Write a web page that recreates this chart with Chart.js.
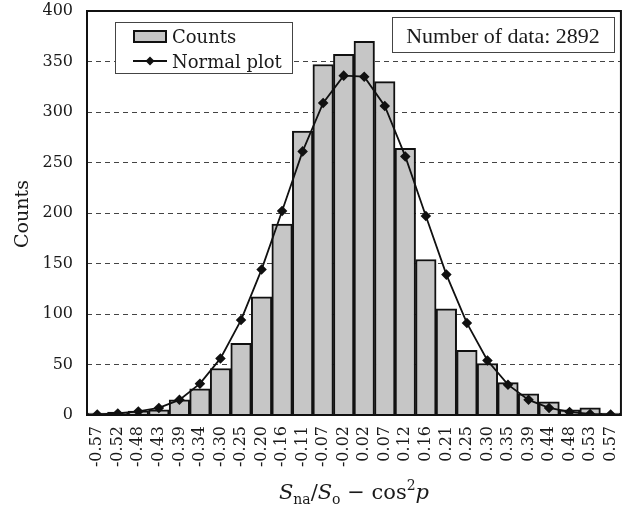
<!DOCTYPE html>
<html>
<head>
<meta charset="utf-8">
<script src="https://cdn.jsdelivr.net/npm/chart.js@4/dist/chart.umd.min.js"></script>
<style>
  html, body { margin: 0; padding: 0; background: #fff; }
  #wrap { width: 630px; height: 513px; }
</style>
</head>
<body>
<div id="wrap"><canvas id="chart"></canvas></div>
<script>
// bin labels (x axis)
const binLabels = ["-0.57", "-0.52", "-0.48", "-0.43", "-0.39", "-0.34", "-0.30", "-0.25", "-0.20",
  "-0.16", "-0.11", "-0.07", "-0.02", "0.02", "0.07", "0.12", "0.16", "0.21", "0.25", "0.30",
  "0.35", "0.39", "0.44", "0.48", "0.53", "0.57"];

// histogram counts
const counts = [2, 3, 4, 5, 15, 26, 46, 71, 117, 189, 281, 347, 357,
  370, 330, 264, 154, 105, 64, 51, 32, 21, 13, 5, 7, 2];

// fitted normal curve
const normalPlot = [0.5, 1.5, 3.5, 7, 15, 31, 56, 94, 144, 202, 261, 309, 336,
  335, 306, 256, 197, 139, 91, 54, 30, 15, 7, 3, 1, 0.5];

const yTicks = [0, 50, 100, 150, 200, 250, 300, 350, 400];

const serif = "'DejaVu Serif', serif";

// legend, info box, axis titles, frame
const decor = {
  id: "decor",
  afterDraw(chart) {
    const ctx = chart.ctx;
    const a = chart.chartArea;
    ctx.save();

    // frame
    ctx.strokeStyle = "#111";
    ctx.lineWidth = 2;
    ctx.strokeRect(a.left, a.top, a.right - a.left, a.bottom - a.top);

    // legend box
    ctx.fillStyle = "#fff";
    ctx.fillRect(115, 22, 177, 51);
    ctx.strokeStyle = "#444";
    ctx.lineWidth = 1;
    ctx.strokeRect(115.5, 22.5, 177, 51);

    ctx.fillStyle = "#c6c6c6";
    ctx.fillRect(134, 31, 32, 11);
    ctx.strokeStyle = "#111";
    ctx.lineWidth = 2;
    ctx.strokeRect(134, 31, 32, 11);

    ctx.lineWidth = 1.8;
    ctx.beginPath();
    ctx.moveTo(133, 61);
    ctx.lineTo(167, 61);
    ctx.stroke();
    ctx.fillStyle = "#111";
    ctx.beginPath();
    ctx.moveTo(150, 56.5);
    ctx.lineTo(154.5, 61);
    ctx.lineTo(150, 65.5);
    ctx.lineTo(145.5, 61);
    ctx.closePath();
    ctx.fill();

    ctx.fillStyle = "#1a1a1a";
    ctx.font = "18px " + serif;
    ctx.textAlign = "left";
    ctx.textBaseline = "alphabetic";
    ctx.fillText("Counts", 172, 43);
    ctx.fillText("Normal plot", 172, 68);

    // number of data box
    ctx.fillStyle = "#fff";
    ctx.fillRect(392, 17, 222, 35);
    ctx.strokeStyle = "#444";
    ctx.lineWidth = 1;
    ctx.strokeRect(392.5, 17.5, 222, 35);
    ctx.fillStyle = "#1a1a1a";
    ctx.font = "22px 'Liberation Serif', serif";
    ctx.textAlign = "center";
    ctx.fillText("Number of data: 2892", 503, 43);

    // y title
    ctx.save();
    ctx.translate(28, 214);
    ctx.rotate(-Math.PI / 2);
    ctx.font = "19px " + serif;
    ctx.textAlign = "center";
    ctx.fillText("Counts", 0, 0);
    ctx.restore();

    // x title: S_na/S_o − cos^2 p
    const parts = [
      { t: "S", f: "italic 21px " + serif, dy: 0 },
      { t: "na", f: "14px " + serif, dy: 5 },
      { t: "/", f: "21px " + serif, dy: 0 },
      { t: "S", f: "italic 21px " + serif, dy: 0 },
      { t: "o", f: "14px " + serif, dy: 5 },
      { t: " \u2212 cos", f: "21px " + serif, dy: 0 },
      { t: "2", f: "14px " + serif, dy: -9 },
      { t: "p", f: "italic 21px " + serif, dy: 0 }
    ];
    let total = 0;
    parts.forEach(p => { ctx.font = p.f; p.w = ctx.measureText(p.t).width; total += p.w; });
    let x = (a.left + a.right) / 2 - total / 2;
    ctx.textAlign = "left";
    parts.forEach(p => {
      ctx.font = p.f;
      ctx.fillText(p.t, x, 499 + p.dy);
      x += p.w;
    });

    ctx.restore();
  }
};

new Chart(document.getElementById("chart"), {
  data: {
    labels: binLabels,
    datasets: [
      {
        type: "line",
        label: "Normal plot",
        data: normalPlot,
        borderColor: "#111",
        borderWidth: 1.8,
        pointStyle: "rectRot",
        pointRadius: 4,
        pointBackgroundColor: "#111",
        pointBorderColor: "#111",
        tension: 0,
        order: 0
      },
      {
        type: "bar",
        label: "Counts",
        data: counts,
        backgroundColor: "#c6c6c6",
        borderColor: "#111",
        borderWidth: 2,
        categoryPercentage: 1,
        barPercentage: 1,
        order: 1
      }
    ]
  },
  options: {
    responsive: true,
    maintainAspectRatio: false,
    animation: false,
    layout: { padding: { top: 11, right: 7, left: 0, bottom: 0 } },
    plugins: {
      legend: { display: false },
      tooltip: { enabled: false }
    },
    scales: {
      x: {
        grid: {
          display: true,
          drawOnChartArea: false,
          drawTicks: true,
          tickLength: 11,
          tickColor: "rgba(0,0,0,0)"
        },
        border: { display: false },
        ticks: {
          color: "#1a1a1a",
          font: { family: "DejaVu Serif", size: 16 },
          minRotation: 90,
          maxRotation: 90,
          autoSkip: false,
          padding: 0
        },
        afterFit(scale) { scale.height = 98; }
      },
      y: {
        min: 0,
        max: 400,
        afterBuildTicks(scale) { scale.ticks = yTicks.map(v => ({ value: v })); },
        grid: {
          color: ctx => (ctx.tick && (ctx.tick.value === 0 || ctx.tick.value === 400)) ? "rgba(0,0,0,0)" : "#444",
          lineWidth: 1,
          drawTicks: true,
          tickLength: 14,
          tickColor: "rgba(0,0,0,0)"
        },
        border: { display: false, dash: [5, 4] },
        ticks: {
          color: "#1a1a1a",
          font: { family: "DejaVu Serif", size: 16 },
          padding: 0
        },
        afterFit(scale) { scale.width = 87; }
      }
    }
  },
  plugins: [decor]
});
</script>
</body>
</html>
